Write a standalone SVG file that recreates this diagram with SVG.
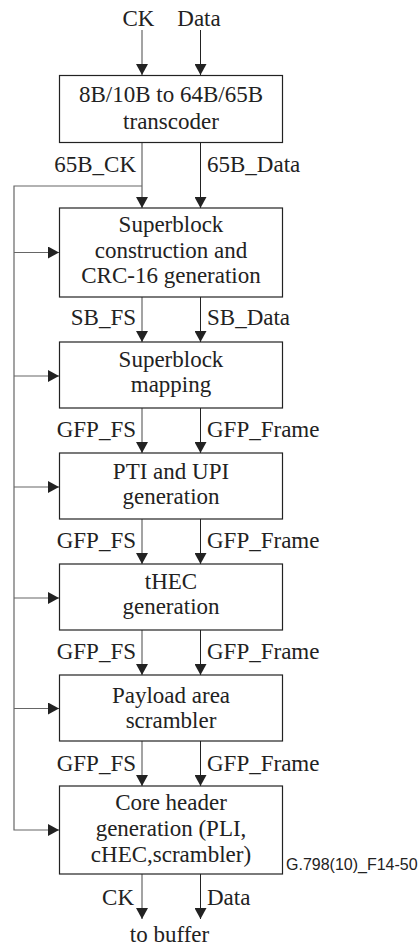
<svg xmlns="http://www.w3.org/2000/svg" width="419" height="946" viewBox="0 0 419 946">
<style>
.box{fill:#fff;stroke:#222;stroke-width:1.2}
.t{font-family:"Liberation Serif","Times New Roman",serif;font-size:23px;fill:#222}
.c{text-anchor:middle}
.e{text-anchor:end}
.ln{stroke:#222;stroke-width:1;fill:none}
.g{stroke:#666;stroke-width:1.2;fill:none}
.ref{font-family:"Liberation Sans",Arial,sans-serif;font-size:16px;fill:#222}
</style>
<defs>
<marker id="ah" markerWidth="12" markerHeight="12" refX="11" refY="6" orient="auto" markerUnits="userSpaceOnUse">
<path d="M0,0 L11,6 L0,12 z" fill="#222"/>
</marker>
</defs>
<g id="connectors">
<line class="g" x1="142" y1="30" x2="142" y2="75" marker-end="url(#ah)"/>
<line class="ln" x1="200.5" y1="30" x2="200.5" y2="75" marker-end="url(#ah)"/>
<line class="g" x1="142" y1="142" x2="142" y2="208" marker-end="url(#ah)"/>
<line class="ln" x1="200.5" y1="142" x2="200.5" y2="208" marker-end="url(#ah)"/>
<line class="g" x1="142" y1="297" x2="142" y2="342" marker-end="url(#ah)"/>
<line class="ln" x1="200.5" y1="297" x2="200.5" y2="342" marker-end="url(#ah)"/>
<line class="g" x1="142" y1="408" x2="142" y2="453" marker-end="url(#ah)"/>
<line class="ln" x1="200.5" y1="408" x2="200.5" y2="453" marker-end="url(#ah)"/>
<line class="g" x1="142" y1="519" x2="142" y2="564" marker-end="url(#ah)"/>
<line class="ln" x1="200.5" y1="519" x2="200.5" y2="564" marker-end="url(#ah)"/>
<line class="g" x1="142" y1="630" x2="142" y2="675" marker-end="url(#ah)"/>
<line class="ln" x1="200.5" y1="630" x2="200.5" y2="675" marker-end="url(#ah)"/>
<line class="g" x1="142" y1="741" x2="142" y2="786" marker-end="url(#ah)"/>
<line class="ln" x1="200.5" y1="741" x2="200.5" y2="786" marker-end="url(#ah)"/>
<line class="g" x1="142" y1="874" x2="142" y2="919" marker-end="url(#ah)"/>
<line class="ln" x1="200.5" y1="874" x2="200.5" y2="919" marker-end="url(#ah)"/>
<path class="g" d="M142,186 H14 V830 H59" marker-end="url(#ah)"/>
<line class="g" x1="14" y1="252.5" x2="59" y2="252.5" marker-end="url(#ah)"/>
<line class="g" x1="14" y1="376" x2="59" y2="376" marker-end="url(#ah)"/>
<line class="g" x1="14" y1="487" x2="59" y2="487" marker-end="url(#ah)"/>
<line class="g" x1="14" y1="598" x2="59" y2="598" marker-end="url(#ah)"/>
<line class="g" x1="14" y1="708.5" x2="59" y2="708.5" marker-end="url(#ah)"/>
</g>
<g id="labels">
<text class="t c" x="138.5" y="26">CK</text>
<text class="t c" x="199" y="26">Data</text>
<text class="t e" x="136" y="172">65B_CK</text>
<text class="t" x="207" y="172">65B_Data</text>
<text class="t e" x="136" y="325">SB_FS</text>
<text class="t" x="207" y="325">SB_Data</text>
<text class="t e" x="136" y="437">GFP_FS</text>
<text class="t" x="207" y="437">GFP_Frame</text>
<text class="t e" x="136" y="548">GFP_FS</text>
<text class="t" x="207" y="548">GFP_Frame</text>
<text class="t e" x="136" y="659">GFP_FS</text>
<text class="t" x="207" y="659">GFP_Frame</text>
<text class="t e" x="136" y="771">GFP_FS</text>
<text class="t" x="207" y="771">GFP_Frame</text>
<text class="t e" x="134" y="905">CK</text>
<text class="t" x="207" y="905">Data</text>
<text class="t c" x="169.5" y="942">to buffer</text>
<text class="ref" x="286" y="870">G.798(10)_F14-50</text>
</g>
<g id="n1">
<rect class="box" x="59.5" y="75.5" width="223" height="67"/>
<text class="t c" x="171" y="102">8B/10B to 64B/65B</text>
<text class="t c" x="171" y="129">transcoder</text>
</g>
<g id="n2">
<rect class="box" x="59.5" y="208" width="223" height="89"/>
<text class="t c" x="171" y="232">Superblock</text>
<text class="t c" x="171" y="257.5">construction and</text>
<text class="t c" x="171" y="283">CRC-16 generation</text>
</g>
<g id="n3">
<rect class="box" x="59.5" y="342" width="223" height="66"/>
<text class="t c" x="171" y="367">Superblock</text>
<text class="t c" x="171" y="392">mapping</text>
</g>
<g id="n4">
<rect class="box" x="59.5" y="453" width="223" height="66"/>
<text class="t c" x="171" y="479">PTI and UPI</text>
<text class="t c" x="171" y="504">generation</text>
</g>
<g id="n5">
<rect class="box" x="59.5" y="564" width="223" height="66"/>
<text class="t c" x="171" y="589">tHEC</text>
<text class="t c" x="171" y="614">generation</text>
</g>
<g id="n6">
<rect class="box" x="59.5" y="675" width="223" height="66"/>
<text class="t c" x="171" y="703">Payload area</text>
<text class="t c" x="171" y="728">scrambler</text>
</g>
<g id="n7">
<rect class="box" x="59.5" y="786" width="223" height="88"/>
<text class="t c" x="171" y="809.5">Core header</text>
<text class="t c" x="171" y="835.5">generation (PLI,</text>
<text class="t c" x="171" y="861.5">cHEC,scrambler)</text>
</g>
</svg>
